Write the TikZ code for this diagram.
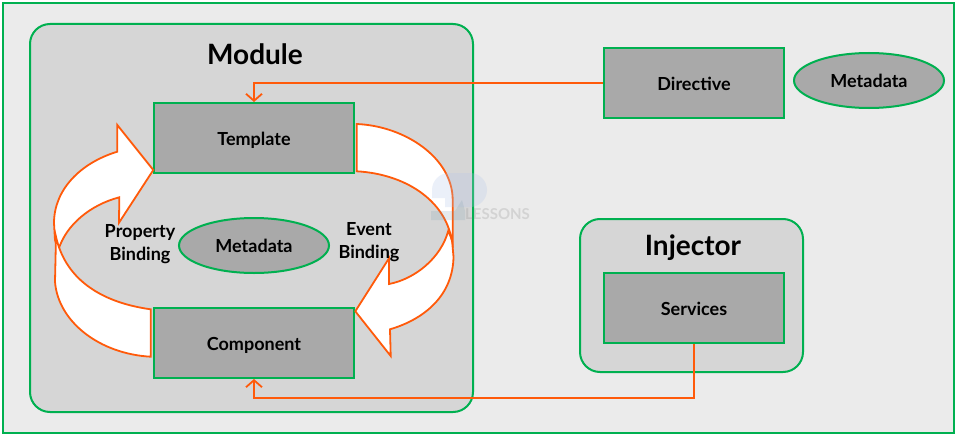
\documentclass[tikz,border=0pt]{standalone}
\usepackage{fontspec}
\setmainfont{Lato}
\usetikzlibrary{arrows.meta,positioning,shapes.geometric}
\definecolor{boxgreen}{HTML}{00B050}
\definecolor{flow}{HTML}{FF5A0A}
\definecolor{pagegray}{HTML}{EBEBEB}
\definecolor{panelgray}{HTML}{D6D6D6}
\definecolor{boxgray}{HTML}{A9A9A9}

\begin{document}
\begin{tikzpicture}[x=1pt, y=-1pt, font=\fontsize{18}{21}\selectfont\bfseries,
  page/.style={draw=boxgreen, line width=2pt, fill=pagegray, minimum width=951pt, minimum height=430pt},
  panel/.style={draw=boxgreen, line width=2pt, fill=panelgray, rounded corners=20pt},
  block/.style={draw=boxgreen, line width=2pt, fill=boxgray, minimum height=70pt, align=center, text height=14.5pt, text depth=0pt},
  meta/.style={draw=boxgreen, line width=2pt, fill=boxgray, ellipse, minimum width=150pt, minimum height=55pt},
  heading/.style={font=\fontsize{28}{32}\selectfont\bfseries},
  wire/.style={draw=flow, line width=1.8pt, -{Straight Barb[length=7pt,width=16pt]}},
  band/.style={draw=flow, line width=1.8pt, fill=white, line join=miter}]
\useasboundingbox (0,0) rectangle (958,436);
% background and the two panels
\node[page] (page) at (478.5,218) {};
\node[panel, minimum width=443pt, minimum height=388pt] (module) at (251.5,218) {};
\node[panel, minimum width=223pt, minimum height=153pt] (injector) at (691.5,295.5) {};
\node[heading] (moduletitle) at (255,54) {Module};
\node[heading] (injectortitle) at (693,247.5) {Injector};
% module contents
\node[block, minimum width=200pt] (template) at (254,138) {Template};
\node[block, minimum width=200pt] (component) at (254,343) {Component};
\node[meta] (metamodule) at (254,245.5) {Metadata};
% right hand side
\node[block, minimum width=180pt] (directive) at (694,83) {Directive};
\node[meta] (metadirective) at (869,80.5) {Metadata};
\node[block, minimum width=180pt] (services) at (694,308) {Services};
% connectors
\draw[wire] (directive.west) -| (template.north);
\coordinate (turn) at (694,398);
\draw[wire] (services.south) -- (turn) -| (component.south);
% left curved arrow
\draw[band] (153.3,170) -- (117.3,125) -- (117.3,151.7)
  .. controls (80,163) and (54,190) .. (54,223) -- (55,240) -- (58.3,250)
  .. controls (66,225) and (90,205) .. (119.3,197.3) -- (119,222.7) -- cycle;
\draw[band] (150.7,309.3) .. controls (105,303) and (66,282) .. (56,236.7)
  -- (55,281.7) .. controls (58,322) and (100,354) .. (150.7,356.7) -- cycle;
% right curved arrow
\draw[band] (355.3,311.3) -- (389,258.3) -- (389,284)
  .. controls (415,279) and (441,258) .. (448.3,230.7) -- (452,240) -- (453.5,256.7)
  .. controls (453,295) and (425,319) .. (390,329.3) -- (390.7,356) -- cycle;
\draw[band] (356.7,124) .. controls (405,126) and (452.7,158) .. (452.7,200) -- (452.7,243)
  -- (451.7,240) .. controls (445,200) and (405,174) .. (356.7,171.3) -- cycle;
% labels
\node[align=center] (proplabel) at (140,244) {Property\\[2pt]Binding};
\node[align=center] (eventlabel) at (369,242) {Event\\[2pt]Binding};
% watermark
\fill[cyan!50!blue!30!white, opacity=0.25] (432,190) arc[start angle=180, end angle=90, radius=17pt] -- (470,173) arc[start angle=90, end angle=-90, radius=17pt] -- (445,207) -- (445,198) -- (432,198) -- cycle;
\fill[cyan!30!gray, opacity=0.2] (431,211) -- (455,211) -- (462,200) -- (465,211) -- (465,220) -- (431,220) -- cycle;
\node[font=\fontsize{15}{18}\selectfont\bfseries, text=gray, opacity=0.22] (watermark) at (497.5,214.5) {LESSONS};
\end{tikzpicture}
\end{document}
